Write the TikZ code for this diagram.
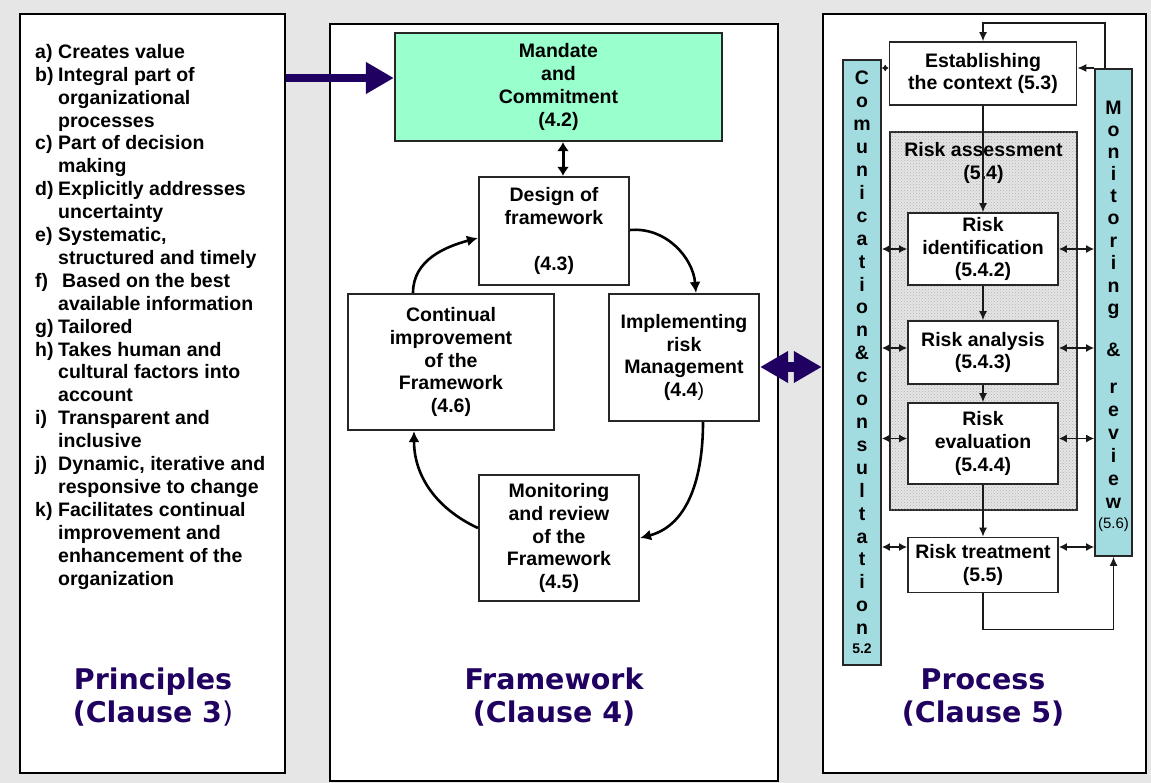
\documentclass[tikz,border=0pt]{standalone}
\usepackage{fontspec}
\setmainfont{Liberation Sans}
\newfontfamily\titlefont{DejaVu Sans}
\usetikzlibrary{arrows.meta,patterns,calc}
\definecolor{bggray}{HTML}{E6E6E6}
\definecolor{indigo}{HTML}{200060}
\definecolor{mint}{HTML}{99FFCC}
\definecolor{barblue}{HTML}{A2DCE0}
\begin{document}
\begin{tikzpicture}[x=1pt,y=-1pt,
  body/.style={font=\fontsize{19.5}{22.9}\selectfont\bfseries, align=center, text=black, inner sep=0pt},
  panel/.style={draw=black, line width=2.5pt, fill=white, inner sep=0pt},
  fbox/.style={draw=black!85, line width=2.2pt, fill=white, body},
  pbox/.style={draw=black!85, line width=1.8pt, fill=white, body},
  bar/.style={draw=black!85, line width=1.8pt, fill=barblue, inner sep=0pt},
  title/.style={font=\titlefont\fontsize{28.5}{33}\selectfont\bfseries, text=indigo, align=center, inner sep=0pt},
  curvearrow/.style={line width=2.6pt, -{Latex[length=11pt,width=11pt]}},
  parrow/.style={line width=1.2pt, draw=black!90, -{Latex[length=9pt,width=8pt]}},
  pdarrow/.style={line width=1.2pt, draw=black!90, {Latex[length=8pt,width=8pt]}-{Latex[length=8pt,width=8pt]}},
  letter/.style={font=\fontsize{19.5}{22.9}\selectfont\bfseries, anchor=base, inner sep=0pt},
]
\useasboundingbox (0,0) rectangle (1151,783);
\fill[bggray] (0,0) rectangle (1151,783);

% panels
\node[panel, minimum width=265pt, minimum height=759pt] (princ) at (152.5,393.5) {};
\node[panel, minimum width=448pt, minimum height=757pt] (frame) at (554,402.5) {};
\node[panel, minimum width=323pt, minimum height=759pt] (proc) at (984.5,393.5) {};

% principles list
\node[anchor=north west, inner sep=0pt, font=\fontsize{19.5}{22.9}\selectfont\bfseries, align=left] (plist) at (35,44) {%
\makebox[23pt][l]{a)}Creates value\\
\makebox[23pt][l]{b)}Integral part of\\
\makebox[23pt]{}organizational\\
\makebox[23pt]{}processes\\
\makebox[23pt][l]{c)}Part of decision\\
\makebox[23pt]{}making\\
\makebox[23pt][l]{d)}Explicitly addresses\\
\makebox[23pt]{}uncertainty\\
\makebox[23pt][l]{e)}Systematic,\\
\makebox[23pt]{}structured and timely\\
\makebox[27pt][l]{f)}Based on the best\\
\makebox[23pt]{}available information\\
\makebox[23pt][l]{g)}Tailored\\
\makebox[23pt][l]{h)}Takes human and\\
\makebox[23pt]{}cultural factors into\\
\makebox[23pt]{}account\\
\makebox[23pt][l]{i)}Transparent and\\
\makebox[23pt]{}inclusive\\
\makebox[23pt][l]{j)}Dynamic, iterative and\\
\makebox[23pt]{}responsive to change\\
\makebox[23pt][l]{k)}Facilitates continual\\
\makebox[23pt]{}improvement and\\
\makebox[23pt]{}enhancement of the\\
\makebox[23pt]{}organization};

% titles
\node[title] (t3) at (153,697.5) {Principles\\(Clause 3{\mdseries )}};
\node[title] (t4) at (554,697.5) {Framework\\(Clause 4)};
\node[title] (t5) at (983,697) {Process\\(Clause 5)};

% framework boxes
\node[fbox, fill=mint, minimum width=327pt, minimum height=108pt] (mandate) at (558.5,87) {Mandate\\and\\Commitment\\(4.2)};
\node[fbox, minimum width=150pt, minimum height=108pt] (design) at (554,231) {Design of\\framework\\[22.9pt](4.3)};
\node[fbox, minimum width=206pt, minimum height=136pt] (contin) at (451,362) {Continual\\improvement\\of the\\Framework\\(4.6)};
\node[fbox, minimum width=150pt, minimum height=127pt] (implem) at (684,357.5) {Implementing\\risk\\Management\\(4.4{\mdseries )}};
\node[fbox, minimum width=160pt, minimum height=126pt] (monfw) at (559,538) {Monitoring\\and review\\of the\\Framework\\(4.5)};

\draw[line width=3pt, {Latex[length=9pt,width=12pt]}-{Latex[length=9pt,width=12pt]}] ([xshift=4.5pt]mandate.south) -- ([xshift=4.5pt]mandate.south |- design.north);
\draw[curvearrow] ([xshift=-38pt]contin.north) to[out=90,in=195] ([yshift=-7pt]design.west);
\draw[curvearrow] ([yshift=1pt]design.east) to[out=5,in=95] ([xshift=12pt]implem.north);
\draw[curvearrow] ([xshift=19pt]implem.south) to[out=-90,in=15] (monfw.east);
\draw[curvearrow] ([yshift=10pt]monfw.west) to[out=155,in=-90] ([xshift=-37pt]contin.south);

% process
\node[bar, minimum width=38pt, minimum height=605pt] (comm) at (862,362.5) {};
\node[bar, minimum width=37pt, minimum height=487pt] (mon) at (1113.5,312.5) {};
\node[pbox, minimum width=187pt, minimum height=63pt] (est) at (983,73.5) {Establishing\\the context (5.3)};
\node[draw=black!85, line width=1.8pt, fill=black!10, postaction={pattern=crosshatch dots, pattern color=black!30}, minimum width=187pt, minimum height=378pt, inner sep=0pt] (assess) at (983.5,321) {};
\node[body, anchor=north] (asslbl) at ([yshift=-11pt]assess.north) {Risk assessment\\(5.4)};
\node[pbox, minimum width=150pt, minimum height=72pt] (ident) at (983,249) {Risk\\identification\\(5.4.2)};
\node[pbox, minimum width=150pt, minimum height=63pt] (anal) at (983,352.5) {Risk analysis\\(5.4.3)};
\node[pbox, minimum width=150pt, minimum height=81pt] (evalb) at (983,443.5) {Risk\\evaluation\\(5.4.4)};
\node[pbox, minimum width=150pt, minimum height=55pt] (treat) at (983,565) {Risk treatment\\(5.5)};

\foreach \c [count=\i from 0] in {C,o,m,u,n,i,c,a,t,i,o,n,\&,c,o,n,s,u,l,t,a,t,i,o,n}
  \node[letter] (cm\i) at (862,85+22.9*\i) {\c};
\node[letter, font=\fontsize{14}{16}\selectfont\bfseries] (cm25) at (862,653) {5.2};
\foreach \c/\yy [count=\i] in {M/115,o/137,n/159,i/181,t/203,o/225,r/248,i/270,n/293,g/315,\&/357,r/393,e/416,v/439,i/462,e/485,w/508}
  \node[letter] (mn\i) at (1113.5,\yy) {\c};
\node[letter, font=\fontsize{15}{17}\selectfont] (mn18) at (1113.5,528) {(5.6)};

\draw[parrow] (est.south) -- (ident.north);
\draw[parrow] (ident.south) -- (anal.north);
\draw[parrow] (anal.south) -- (evalb.north);
\draw[parrow] (evalb.south) -- (treat.north);

\coordinate (l1) at (ident.west); \coordinate (r1) at (ident.east);
\coordinate (l2) at ([yshift=4.5pt]anal.west); \coordinate (r2) at ([yshift=4.5pt]anal.east);
\coordinate (l3) at ([yshift=5pt]evalb.west); \coordinate (r3) at ([yshift=5pt]evalb.east);
\coordinate (l4) at ([yshift=18pt]treat.west); \coordinate (r4) at ([yshift=18pt]treat.east);
\foreach \k in {1,2,3,4}{
  \draw[pdarrow] (comm.east |- l\k) -- (l\k);
  \draw[pdarrow] (r\k) -- (mon.west |- r\k);
}
\coordinate (e1) at ([yshift=5.5pt]est.west);
\coordinate (e2) at ([yshift=5.5pt]est.east);
\draw[line width=1.2pt, draw=black!90, {Latex[length=4pt,width=7pt]}-{Latex[length=4pt,width=7pt]}] (comm.east |- e1) -- (e1);
\draw[parrow] (mon.west |- e2) -- (e2);
\draw[parrow] ([xshift=-8.5pt]mon.north) -- ++(0,-45) -| (est.north);
\draw[parrow] (treat.south) -- ++(0,36) -| (mon.south);

% big arrows
\coordinate (marrow) at ([yshift=9pt]mandate.west);
\draw[indigo, line width=8pt, -{Triangle[length=28pt,width=30pt]}] (princ.east |- marrow) -- (marrow);
\coordinate (darr) at ([yshift=-9.5pt]implem.east);
\draw[indigo, line width=10pt, {Triangle[length=28pt,width=30pt]}-{Triangle[length=28pt,width=30pt]}] (darr) -- (proc.west |- darr);
\end{tikzpicture}
\end{document}
